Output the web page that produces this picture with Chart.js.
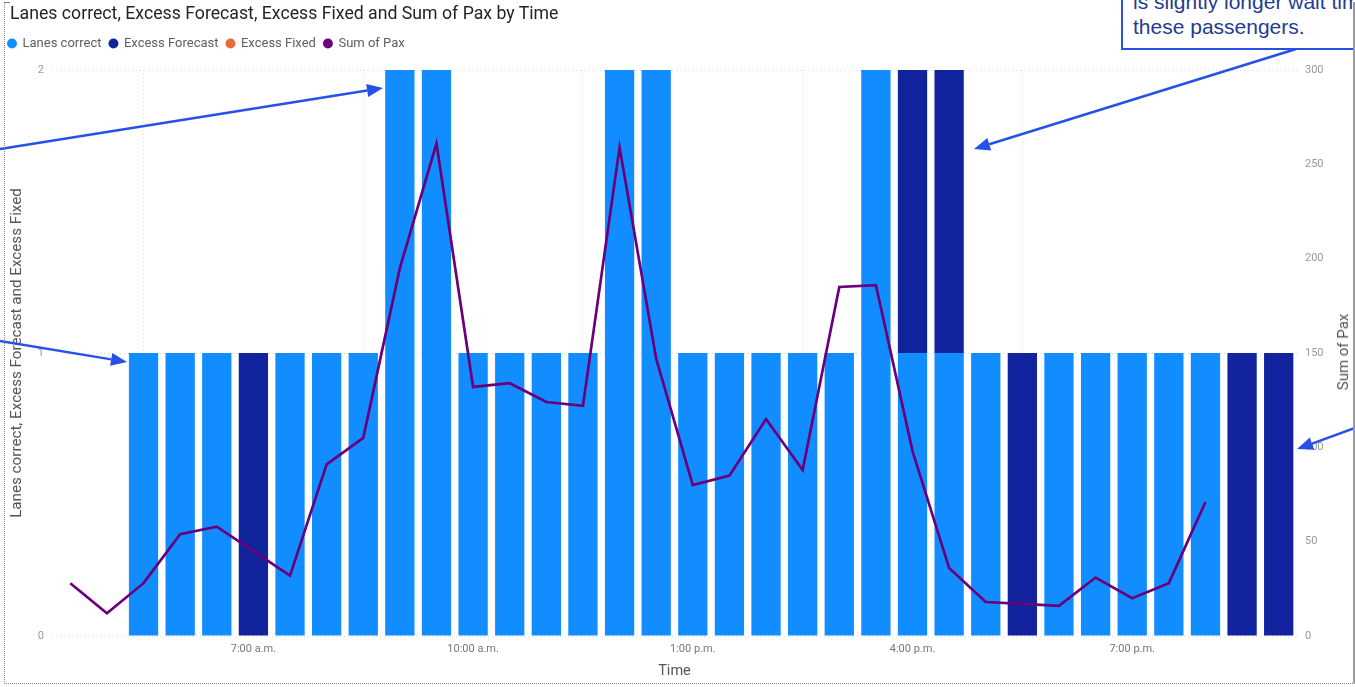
<!DOCTYPE html>
<html>
<head>
<meta charset="utf-8">
<script src="https://cdn.jsdelivr.net/npm/chart.js@4.4.1/dist/chart.umd.min.js"></script>
<style>
	html, body { margin: 0; padding: 0; background: #fff; overflow: hidden; }
	#wrap { position: relative; width: 1355px; height: 687px; overflow: hidden; }
	#box { position: absolute; left: 0; top: 0; width: 1355px; height: 687px; }
	#title { position: absolute; left: 10px; top: 3px; font: 17.7px Roboto, sans-serif; color: #252423; white-space: nowrap; }
	#paxTitle { position: absolute; left: 1343px; top: 352px; transform: translate(-50%, -50%) rotate(-90deg);
		font: 15px Roboto, sans-serif; color: #555; white-space: nowrap; }
	#note { position: absolute; left: 1121px; top: -30px; width: 300px; height: 80px; border: 2px solid #2650e6;
		background: #fff; font: 21px "Liberation Sans", Arial, sans-serif; color: #1f3c8f; line-height: 25px;
		padding: 17px 10px 0 10px; box-sizing: border-box; white-space: nowrap; }
	#frame { position: absolute; left: 4px; top: 2px; width: 1348px; height: 681px;
		border-left: 1px dotted #8a8a8a; border-bottom: 1px dotted #8a8a8a; border-right: 2px solid #9a9a9a; pointer-events: none; }
	#corner { position: absolute; left: 4px; top: 2px; width: 6px; height: 1px; background: #777; }
</style>
</head>
<body>
<div id="wrap">
	<div id="box"><canvas id="pf-chart"></canvas></div>
	<div id="title">Lanes correct, Excess Forecast, Excess Fixed and Sum of Pax by Time</div>
	<div id="paxTitle">Sum of Pax</div>
	<div id="note">is slightly longer wait time for<br>these passengers.</div>
	<div id="frame"></div>
	<div id="corner"></div>
</div>
<script>

	/* Data ------------------------------------------------------------ */

	var times = ['4:30 a.m.', '5:00 a.m.', '5:30 a.m.', '6:00 a.m.', '6:30 a.m.', '7:00 a.m.', '7:30 a.m.', '8:00 a.m.',
		'8:30 a.m.', '9:00 a.m.', '9:30 a.m.', '10:00 a.m.', '10:30 a.m.', '11:00 a.m.', '11:30 a.m.', '12:00 p.m.',
		'12:30 p.m.', '1:00 p.m.', '1:30 p.m.', '2:00 p.m.', '2:30 p.m.', '3:00 p.m.', '3:30 p.m.', '4:00 p.m.',
		'4:30 p.m.', '5:00 p.m.', '5:30 p.m.', '6:00 p.m.', '6:30 p.m.', '7:00 p.m.', '7:30 p.m.', '8:00 p.m.',
		'8:30 p.m.', '9:00 p.m.'];

	var lanesCorrect   = [0, 0, 1, 1, 1, 0, 1, 1, 1, 2, 2, 1, 1, 1, 1, 2, 2, 1, 1, 1, 1, 1, 2, 1, 1, 1, 0, 1, 1, 1, 1, 1, 0, 0];
	var excessForecast = [0, 0, 0, 0, 0, 1, 0, 0, 0, 0, 0, 0, 0, 0, 0, 0, 0, 0, 0, 0, 0, 0, 0, 1, 1, 0, 1, 0, 0, 0, 0, 0, 1, 1];
	var excessFixed    = [0, 0, 0, 0, 0, 0, 0, 0, 0, 0, 0, 0, 0, 0, 0, 0, 0, 0, 0, 0, 0, 0, 0, 0, 0, 0, 0, 0, 0, 0, 0, 0, 0, 0];
	var sumOfPax       = [28, 12, 28, 54, 58, 45, 32, 91, 105, 195, 261, 132, 134, 124, 122, 259, 147, 80, 85, 115, 88,
		185, 186, 98, 36, 18, 17, 16, 31, 20, 28, 71, null, null];

	var timeTicks  = ['7:00 a.m.', '10:00 a.m.', '1:00 p.m.', '4:00 p.m.', '7:00 p.m.'];
	var laneTicks  = [0, 1, 2];
	var paxTicks   = [0, 50, 100, 150, 200, 250, 300];

	/* Callout arrows drawn over the chart (screenshot annotations) ---- */

	var arrows = [
		{ from: [0, 149], to: [383, 88] },
		{ from: [0, 341], to: [127, 362] },
		{ from: [1296, 49], to: [974, 149] },
		{ from: [1355, 428], to: [1297, 449] }
	];

	var arrowPlugin = {
		id: 'arrows',
		afterDraw: function(chart){
			var ctx = chart.ctx;
			ctx.save();
			ctx.strokeStyle = '#2650e6';
			ctx.fillStyle = '#2650e6';
			ctx.lineWidth = 2.5;
			arrows.forEach(function(a){
				var dx = a.to[0] - a.from[0], dy = a.to[1] - a.from[1];
				var len = Math.sqrt(dx * dx + dy * dy);
				var ux = dx / len, uy = dy / len;
				var hl = 16, hw = 6.5;
				var bx = a.to[0] - ux * hl, by = a.to[1] - uy * hl;
				ctx.beginPath();
				ctx.moveTo(a.from[0], a.from[1]);
				ctx.lineTo(bx, by);
				ctx.stroke();
				ctx.beginPath();
				ctx.moveTo(a.to[0], a.to[1]);
				ctx.lineTo(bx - uy * hw, by + ux * hw);
				ctx.lineTo(bx + uy * hw, by - ux * hw);
				ctx.closePath();
				ctx.fill();
			});
			ctx.restore();
		}
	};

	/* Chart ----------------------------------------------------------- */

	Chart.defaults.font.family = 'Roboto, sans-serif';
	Chart.defaults.color = '#777';

	var container = document.getElementById('pf-chart');

	var chart = new Chart(container, {
		type : 'bar',
		data : {
			labels : times,
			datasets : [{
				label : 'Lanes correct',
				data : lanesCorrect,
				backgroundColor : '#118dff',
				yAxisID : 'y',
				order : 1
			}, {
				label : 'Excess Forecast',
				data : excessForecast,
				backgroundColor : '#12239e',
				yAxisID : 'y',
				order : 1
			}, {
				label : 'Excess Fixed',
				data : excessFixed,
				backgroundColor : '#e66c37',
				yAxisID : 'y',
				order : 1
			}, {
				type : 'line',
				label : 'Sum of Pax',
				data : sumOfPax,
				borderColor : '#6b007b',
				backgroundColor : '#6b007b',
				borderWidth : 2.7,
				pointRadius : 0,
				pointStyle : 'circle',
				tension : 0,
				yAxisID : 'y1',
				order : 0
			}]
		},
		plugins : [arrowPlugin],
		options : {
			responsive : true,
			maintainAspectRatio : false,
			animation : false,
			datasets : {
				bar : { barPercentage : 0.8, categoryPercentage : 1.0 }
			},
			layout : { padding : { top : 29, left : 0, right : 0, bottom : 0 } },
			plugins : {
				tooltip : { enabled : false },
				legend : {
					position : 'top',
					align : 'start',
					labels : {
						usePointStyle : true,
						pointStyle : 'circle',
						boxWidth : 8,
						boxHeight : 7,
						padding : 8,
						color : '#605e5c',
						font : { size : 13 },
						sort : function(a, b){ return a.datasetIndex - b.datasetIndex; },
						generateLabels : function(c){
							var items = Chart.defaults.plugins.legend.labels.generateLabels(c);
							items.forEach(function(it){ it.lineWidth = 0; });
							return items;
						}
					}
				},
				subtitle : {
					display : true,
					text : '',
					weight : 500,
					padding : 0,
					font : { size : 10, lineHeight : 1 }
				}
			},
			scales : {
				x : {
					stacked : true,
					grid : {
						drawTicks : false,
						color : function(c){
							var lbl = c.tick ? times[c.tick.value] : null;
							return timeTicks.indexOf(lbl) >= 0 ? '#d8d8d8' : 'rgba(0,0,0,0)';
						}
					},
					border : { display : false, dash : [1, 3] },
					ticks : {
						autoSkip : false,
						maxRotation : 0,
						padding : 7,
						color : '#777',
						font : { size : 11 },
						callback : function(v){
							var lbl = times[v];
							return timeTicks.indexOf(lbl) >= 0 ? lbl : null;
						}
					},
					title : {
						display : true,
						text : 'Time',
						color : '#555',
						font : { size : 14.5 },
						padding : { top : 0, bottom : 7 }
					},
					afterFit : function(s){ s.height = 51; }
				},
				y : {
					stacked : true,
					position : 'left',
					min : 0,
					max : 2,
					afterBuildTicks : function(s){ s.ticks = laneTicks.map(function(v){ return { value : v }; }); },
					grid : { drawTicks : false, color : '#d8d8d8' },
					border : { display : false, dash : [1, 3] },
					ticks : { padding : 8, color : '#999', font : { size : 11 } },
					title : {
						display : true,
						text : 'Lanes correct, Excess Forecast and Excess Fixed',
						color : '#555',
						font : { size : 15.2 },
						padding : { top : 8, bottom : 0 }
					},
					afterFit : function(s){ s.width = 52; }
				},
				y1 : {
					position : 'right',
					min : 0,
					max : 300,
					afterBuildTicks : function(s){ s.ticks = paxTicks.map(function(v){ return { value : v }; }); },
					grid : { display : false, drawTicks : false },
					border : { display : false },
					ticks : { padding : 8, color : '#999', font : { size : 11 } },
					afterFit : function(s){ s.width = 58; }
				}
			}
		}
	});

	/* ----------------------------------------------------------------- */

</script>
</body>
</html>
